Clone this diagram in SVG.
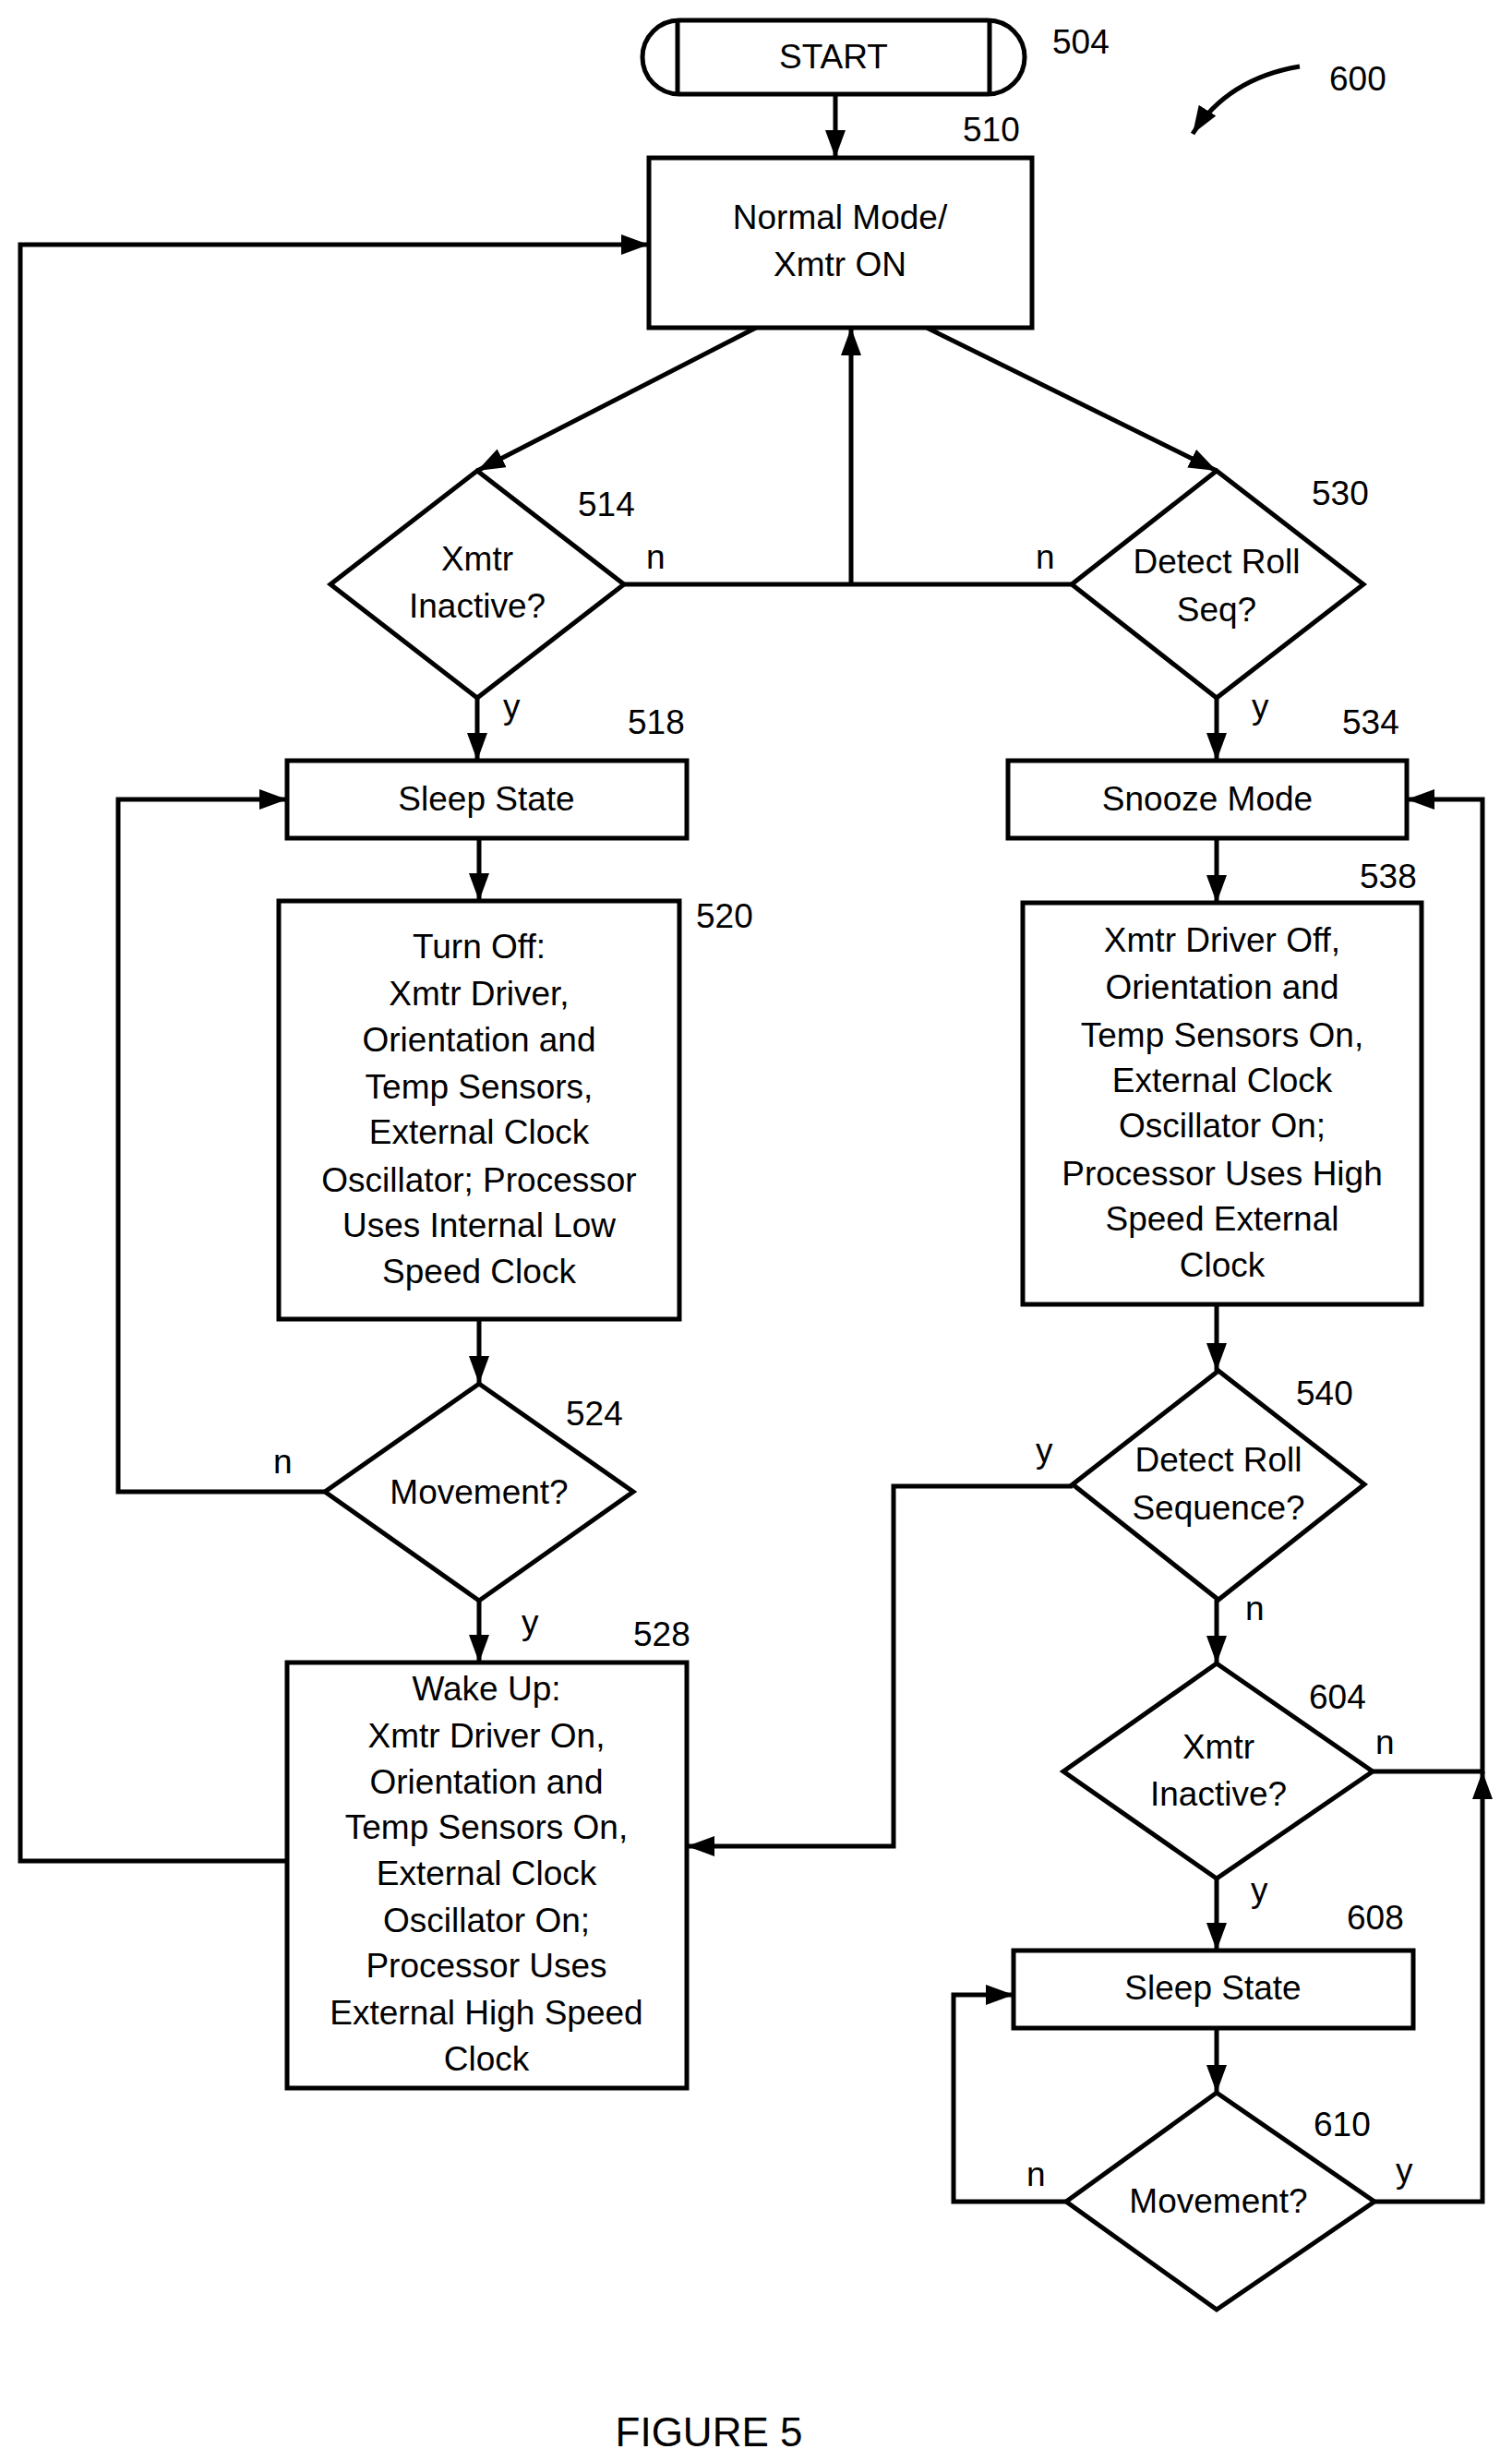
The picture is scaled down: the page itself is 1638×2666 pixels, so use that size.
<svg xmlns="http://www.w3.org/2000/svg" width="1638" height="2666" viewBox="0 0 1638 2666">
<style>
.s{fill:#fff;stroke:#000;stroke-width:5}
.c{fill:none;stroke:#000;stroke-width:5}
text{font-family:"Liberation Sans",Arial,sans-serif;font-size:37px;fill:#000}
.m{text-anchor:middle}
</style>
<defs>
<marker id="a" markerUnits="userSpaceOnUse" markerWidth="32" markerHeight="24" refX="30" refY="11" orient="auto"><path d="M0,0L30,11L0,22z" fill="#000"/></marker>
</defs>
<rect width="1638" height="2666" fill="#fff"/>
<g id="connectors">
<path class="c" d="M905,102V171" marker-end="url(#a)"/>
<path class="c" d="M819,355L517,510" marker-end="url(#a)"/>
<path class="c" d="M1004,355L1318,510" marker-end="url(#a)"/>
<path class="c" d="M676,633H1161M922,633V355" marker-end="url(#a)"/>
<path class="c" d="M517,756V824" marker-end="url(#a)"/>
<path class="c" d="M1318,756V824" marker-end="url(#a)"/>
<path class="c" d="M519,908V976" marker-end="url(#a)"/>
<path class="c" d="M1318,908V978" marker-end="url(#a)"/>
<path class="c" d="M519,1429V1499" marker-end="url(#a)"/>
<path class="c" d="M352,1616H128V866H311" marker-end="url(#a)"/>
<path class="c" d="M519,1734V1801" marker-end="url(#a)"/>
<path class="c" d="M311,2016H22V265H703" marker-end="url(#a)"/>
<path class="c" d="M1318,1413V1485" marker-end="url(#a)"/>
<path class="c" d="M1162,1610H968V2000H744" marker-end="url(#a)"/>
<path class="c" d="M1318,1733V1802" marker-end="url(#a)"/>
<path class="c" d="M1487,1919H1606V866H1524" marker-end="url(#a)"/>
<path class="c" d="M1318,2035V2113" marker-end="url(#a)"/>
<path class="c" d="M1318,2197V2267" marker-end="url(#a)"/>
<path class="c" d="M1155,2385H1033V2161H1098" marker-end="url(#a)"/>
<path class="c" d="M1489,2385H1606V1919" marker-end="url(#a)"/>
<path class="c" d="M1408,72Q1330,85 1292,145" marker-end="url(#a)"/>
</g>
<g id="n504"><rect class="s" x="696" y="22" width="414" height="80" rx="40"/><path class="c" d="M734,22V102M1072,22V102"/><text class="m" x="903" y="74">START</text><text x="1140" y="58">504</text></g>
<text x="1440" y="98">600</text>
<g id="n510"><rect class="s" x="703" y="171" width="415" height="184"/><text class="m" x="910" y="248">Normal Mode/</text><text class="m" x="910" y="299">Xmtr ON</text><text x="1043" y="153">510</text></g>
<g id="n514"><path class="s" d="M517,510L676,633L517,756L358,633z"/><text class="m" x="517" y="618">Xmtr</text><text class="m" x="517" y="669">Inactive?</text><text x="626" y="559">514</text><text x="700" y="616">n</text><text x="545" y="778">y</text></g>
<g id="n530"><path class="s" d="M1318,510L1477,633L1318,756L1161,633z"/><text class="m" x="1318" y="621">Detect Roll</text><text class="m" x="1318" y="673">Seq?</text><text x="1421" y="547">530</text><text x="1122" y="616">n</text><text x="1356" y="778">y</text></g>
<g id="n518"><rect class="s" x="311" y="824" width="433" height="84"/><text class="m" x="527" y="878">Sleep State</text><text x="680" y="795">518</text></g>
<g id="n534"><rect class="s" x="1092" y="824" width="432" height="84"/><text class="m" x="1308" y="878">Snooze Mode</text><text x="1454" y="795">534</text></g>
<g id="n520"><rect class="s" x="302" y="976" width="434" height="453"/>
<text class="m" x="519" y="1038">Turn Off:</text><text class="m" x="519" y="1089">Xmtr Driver,</text><text class="m" x="519" y="1139">Orientation and</text><text class="m" x="519" y="1190">Temp Sensors,</text><text class="m" x="519" y="1239">External Clock</text><text class="m" x="519" y="1291">Oscillator; Processor</text><text class="m" x="519" y="1340">Uses Internal Low</text><text class="m" x="519" y="1390">Speed Clock</text><text x="754" y="1005">520</text></g>
<g id="n538"><rect class="s" x="1108" y="978" width="432" height="435"/>
<text class="m" x="1324" y="1031">Xmtr Driver Off,</text><text class="m" x="1324" y="1082">Orientation and</text><text class="m" x="1324" y="1134">Temp Sensors On,</text><text class="m" x="1324" y="1183">External Clock</text><text class="m" x="1324" y="1232">Oscillator On;</text><text class="m" x="1324" y="1284">Processor Uses High</text><text class="m" x="1324" y="1333">Speed External</text><text class="m" x="1324" y="1383">Clock</text><text x="1473" y="962">538</text></g>
<g id="n524"><path class="s" d="M519,1499L686,1616L519,1734L352,1616z"/><text class="m" x="519" y="1629">Movement?</text><text x="613" y="1544">524</text><text x="296" y="1596">n</text><text x="565" y="1770">y</text></g>
<g id="n528"><rect class="s" x="311" y="1801" width="433" height="461"/>
<text class="m" x="527" y="1842">Wake Up:</text><text class="m" x="527" y="1893">Xmtr Driver On,</text><text class="m" x="527" y="1943">Orientation and</text><text class="m" x="527" y="1992">Temp Sensors On,</text><text class="m" x="527" y="2042">External Clock</text><text class="m" x="527" y="2093">Oscillator On;</text><text class="m" x="527" y="2142">Processor Uses</text><text class="m" x="527" y="2193">External High Speed</text><text class="m" x="527" y="2243">Clock</text><text x="686" y="1783">528</text></g>
<g id="n540"><path class="s" d="M1320,1485L1478,1608L1320,1733L1162,1608z"/><text class="m" x="1320" y="1594">Detect Roll</text><text class="m" x="1320" y="1646">Sequence?</text><text x="1404" y="1522">540</text><text x="1122" y="1584">y</text><text x="1349" y="1755">n</text></g>
<g id="n604"><path class="s" d="M1318,1802L1487,1919L1318,2035L1152,1919z"/><text class="m" x="1320" y="1905">Xmtr</text><text class="m" x="1320" y="1956">Inactive?</text><text x="1418" y="1851">604</text><text x="1490" y="1900">n</text><text x="1355" y="2060">y</text></g>
<g id="n608"><rect class="s" x="1098" y="2113" width="433" height="84"/><text class="m" x="1314" y="2166">Sleep State</text><text x="1459" y="2090">608</text></g>
<g id="n610"><path class="s" d="M1318,2267L1489,2385L1318,2502L1155,2385z"/><text class="m" x="1320" y="2397">Movement?</text><text x="1423" y="2314">610</text><text x="1112" y="2368">n</text><text x="1512" y="2364">y</text></g>
<text class="m" x="768" y="2650" style="font-size:44px">FIGURE 5</text>
</svg>
